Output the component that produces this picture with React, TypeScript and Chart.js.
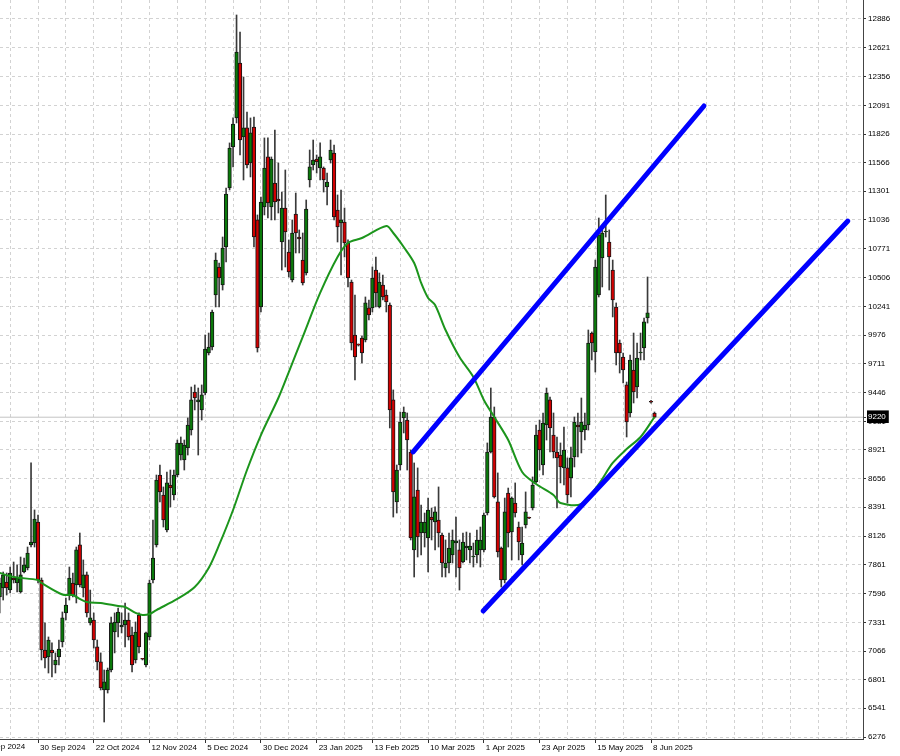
import React, { useEffect, useRef } from 'react';
import { Chart, registerables } from 'chart.js';

Chart.register(...registerables);

// ---- Daily OHLC (bar index 0 = 13 Sep 2024 ... 188 = 9 Jun 2025) ----
const openVals = [
  7565, 7648, 7703, 7629, 7740, 7694, 7611, 7795, 7832, 8044,
  8062, 8255, 7721, 7077, 7013, 7077, 6939, 7013, 7151, 7418,
  7583, 7694, 7675, 8044, 7648, 7768, 7326, 7353, 7105, 6967,
  6709, 6709, 6893, 7243, 7326, 7289, 7307, 7353, 7215, 6985,
  7399, 6996, 6939, 7197, 7721, 8044, 8688, 8504, 8182, 8596,
  8504, 8688, 8872, 8826, 8937, 9102, 9452, 9360, 9287, 9443,
  9811, 9866, 10345, 10603, 10437, 10787, 11330, 11708, 11975, 12481,
  11800, 11883, 11560, 11892, 11036, 10235, 11155, 11616, 11155, 11376,
  11229, 10833, 11146, 10741, 10483, 11091, 10879, 10667, 10548, 11404,
  11542, 11597, 11514, 11514, 11339, 11588, 11652, 11128, 11008, 11017,
  10824, 10465, 9977, 9887, 9949, 9931, 10226, 10226, 10575, 10235,
  10437, 10345, 10253, 9379, 8440, 8780, 9213, 9194, 8900, 7998,
  8550, 8154, 8154, 8108, 8301, 8255, 8274, 8136, 7832, 7878,
  7952, 8062, 7998, 7887, 8016, 7998, 7933, 7952, 7998, 7998,
  8338, 8900, 9222, 8440, 8016, 7721, 8522, 8163, 8430, 8209,
  7952, 8228, 8294, 8384, 8624, 9102, 8780, 9148, 9379, 9056,
  8900, 8872, 8753, 8753, 8661, 8854, 9148, 9084, 9102, 9148,
  9995, 9820, 10345, 10686, 10925, 10833, 10575, 10235, 9903, 9774,
  9517, 9259, 9655, 9498, 9811, 9857, 10133, 9362, 9259,
];
const highVals = [
  7740, 7795, 7786, 7841, 7887, 7860, 7933, 7924, 8025, 8799,
  8366, 8320, 7740, 7326, 7197, 7142, 7050, 7169, 7427, 7556,
  7841, 7786, 8025, 8154, 7906, 7795, 7629, 7418, 7169, 7050,
  6893, 6911, 7381, 7418, 7464, 7418, 7510, 7418, 7289, 7335,
  7418, 7000, 7243, 7721, 8274, 8688, 8780, 8578, 8716, 8734,
  8734, 9010, 9038, 9010, 9213, 9498, 9517, 9489, 9517, 9977,
  9995, 10207, 10732, 10640, 10879, 11330, 11745, 11975, 12923, 12766,
  12352, 12030, 11975, 11984, 11082, 11247, 11791, 11791, 11616, 11864,
  11560, 11293, 11496, 10852, 11036, 11284, 10944, 10916, 11220, 11680,
  11772, 11634, 11745, 11524, 11468, 11772, 11726, 11266, 11312, 11146,
  10852, 10483, 10345, 9895, 9968, 10327, 10299, 10603, 10695, 10548,
  10529, 10391, 10272, 9471, 8780, 9268, 9314, 9259, 8918, 8799,
  8753, 8412, 8338, 8476, 8384, 8394, 8578, 8154, 8090, 8154,
  8182, 8301, 8090, 8154, 8163, 8154, 8062, 8182, 8209, 8338,
  8983, 9489, 9314, 8707, 8025, 8476, 8568, 8486, 8615, 8255,
  8209, 8532, 8300, 8670, 9148, 9194, 9259, 9489, 9406, 9259,
  9038, 8983, 9130, 8845, 8946, 9222, 9259, 9397, 9259, 10023,
  10005, 10667, 11054, 10944, 11266, 10944, 10667, 10272, 9931, 9811,
  9544, 9793, 9995, 9903, 9995, 10133, 10511, 9375, 9268,
];
const lowVals = [
  7418, 7537, 7583, 7602, 7694, 7611, 7602, 7786, 7814, 8025,
  8025, 7694, 6985, 6911, 6865, 6829, 6865, 6939, 7105, 7353,
  7537, 7565, 7510, 7657, 7565, 7381, 7307, 7095, 6893, 6709,
  6414, 6681, 6875, 7050, 7197, 7234, 7105, 7169, 6875, 6957,
  7050, 6985, 6921, 7169, 7694, 8025, 8440, 8209, 8163, 8394,
  8458, 8670, 8826, 8734, 8872, 9056, 9287, 8872, 9194, 9425,
  9793, 9839, 10235, 10235, 10391, 10649, 11312, 11524, 11929, 11634,
  11404, 11514, 11432, 10787, 9820, 10189, 11082, 11054, 11036, 11036,
  11100, 10575, 10603, 10511, 10465, 10732, 10732, 10437, 10529, 11339,
  11496, 11468, 11404, 11293, 11174, 11560, 11036, 10833, 10529, 10695,
  10419, 9839, 9563, 9875, 9719, 9913, 10115, 10189, 10235, 10226,
  10299, 10189, 9121, 8301, 8338, 8734, 9075, 8734, 8090, 7749,
  7933, 7952, 8025, 7795, 8090, 7998, 8025, 7749, 7749, 7786,
  7878, 7749, 7629, 7878, 7906, 7878, 7841, 7878, 7841, 7979,
  8320, 8891, 8476, 7933, 7657, 7694, 8025, 7906, 8301, 7906,
  7860, 8200, 8285, 8366, 8615, 8734, 8688, 9010, 8900, 8845,
  8384, 8615, 8596, 8430, 8486, 8762, 8854, 8891, 9010, 9102,
  9747, 9636, 10327, 10419, 10879, 10391, 10143, 9701, 9627, 9535,
  9038, 9222, 9351, 9397, 9747, 9747, 10087, 9350, 9213,
];
const closeVals = [
  7694, 7768, 7648, 7786, 7721, 7740, 7768, 7860, 7970, 8071,
  8283, 7721, 7077, 7004, 7169, 7050, 6985, 7086, 7372, 7491,
  7740, 7583, 7998, 7675, 7768, 7418, 7372, 7169, 6967, 6727,
  6783, 6893, 7326, 7335, 7427, 7307, 7353, 7197, 6939, 7243,
  7105, 6992, 7234, 7694, 7924, 8642, 8532, 8274, 8615, 8568,
  8688, 8983, 8983, 8964, 9148, 9379, 9397, 9379, 9425, 9848,
  9866, 10189, 10667, 10502, 10778, 11275, 11698, 11919, 12582, 11772,
  11883, 11542, 11837, 10879, 9857, 11201, 11514, 11192, 11597, 11201,
  11211, 11146, 10925, 10557, 10916, 10916, 10861, 10456, 11137, 11524,
  11588, 11570, 11616, 11404, 11385, 11680, 11063, 10971, 11036, 10824,
  10502, 9903, 9774, 9883, 9811, 10272, 10161, 10502, 10364, 10465,
  10327, 10281, 9287, 8532, 8734, 9176, 9268, 9010, 8108, 8486,
  8117, 8255, 8255, 8366, 8274, 8348, 8154, 7878, 7878, 8016,
  8090, 8081, 7832, 8071, 8034, 8034, 7942, 8090, 8090, 8320,
  8900, 9222, 8486, 7979, 7721, 8348, 8154, 8476, 8338, 8071,
  8062, 8348, 8290, 8596, 9056, 8918, 9167, 9443, 9121, 8900,
  8845, 8762, 8918, 8504, 8845, 9176, 9130, 9176, 9148, 9903,
  9903, 10603, 10898, 10916, 10934, 10695, 10299, 9811, 9811, 9655,
  9176, 9747, 9452, 9765, 9820, 10097, 10180, 9358, 9220,
];

// ---- Moving average (bar index, value) ----
const maIndex = [
  0, 4, 11, 12, 18, 21, 22, 25, 29, 34, 36, 39, 41, 43, 45, 51, 56, 60, 63, 67,
  71, 75, 80, 83, 87, 92, 97, 100, 104, 111, 113, 116, 119, 121, 123, 125, 128, 132, 136, 139,
  142, 146, 150, 154, 159, 161, 167, 172, 176, 180, 184, 188,
];
const maValues = [
  7786, 7749, 7721, 7694, 7588, 7583, 7565, 7519, 7510, 7482, 7473, 7418, 7399, 7408, 7445, 7547, 7657, 7832, 8044, 8366,
  8734, 9056, 9397, 9636, 9959, 10364, 10695, 10824, 10870, 10980, 10916, 10787, 10640, 10456, 10318, 10253, 10023, 9774, 9590, 9379,
  9222, 9010, 8716, 8605, 8504, 8430, 8421, 8605, 8799, 8927, 9038, 9222,
];

// ---- Trend channel lines (bar index, value) ----
const upperLineX = [118.7, 202.2];
const upperLineY = [8900, 12085];
const lowerLineX = [138.8, 243.5];
const lowerLineY = [7436, 11026];

// ---- Axes ----
const lastPrice = 9220;
const yTickValues = [
  6276, 6541, 6801, 7066, 7331, 7596, 7861, 8126, 8391, 8656, 8921, 9181, 9220,
  9446, 9711, 9976, 10241, 10506, 10771, 11036, 11301, 11566, 11826, 12091, 12356, 12621, 12886,
];
const xLabelIndex = [-5, 11, 27, 43, 59, 75, 91, 107, 123, 139, 155, 171, 187];
const xLabelText = [
  '6 Sep 2024', '30 Sep 2024', '22 Oct 2024', '12 Nov 2024', '5 Dec 2024', '30 Dec 2024',
  '23 Jan 2025', '13 Feb 2025', '10 Mar 2025', '1 Apr 2025', '23 Apr 2025', '15 May 2025', '8 Jun 2025',
];

const X_MIN = 0.086;
const X_MAX = 247.86;
const Y_MIN = 6257.6;
const Y_MAX = 13060.9;
const FONT = 'Liberation Sans';
const GRID = '#d2d2d2';
const BULL = '#0a7a0a';
const BEAR = '#d20000';

export default function App() {
  const ref = useRef<HTMLCanvasElement | null>(null);

  useEffect(() => {
    const canvas = ref.current;
    if (!canvas) return;
    const idx = openVals.map((_, i) => i);
    const wicks = idx.map((i) => ({ x: i, y: [lowVals[i], highVals[i]] }));
    const bodies = idx.map((i) => ({ x: i, y: [openVals[i], closeVals[i]] }));
    const bodyColors = idx.map((i) => (closeVals[i] >= openVals[i] ? BULL : BEAR));
    const ma = maIndex.map((x, k) => ({ x, y: maValues[k] }));
    const upper = upperLineX.map((x, k) => ({ x, y: upperLineY[k] }));
    const lower = lowerLineX.map((x, k) => ({ x, y: lowerLineY[k] }));
    const priceLine = [{ x: X_MIN, y: lastPrice }, { x: X_MAX, y: lastPrice }];

    const gridIdx: number[] = [];
    for (let v = 3; v <= X_MAX; v += 8) gridIdx.push(v);

    const firstLabelPlugin = {
      id: 'clippedFirstLabel',
      afterDraw(chart: any) {
        const xs = chart.scales.x;
        const ctx = chart.ctx;
        ctx.save();
        ctx.font = `8px "${FONT}"`;
        ctx.fillStyle = '#000';
        ctx.textAlign = 'left';
        ctx.textBaseline = 'top';
        xLabelIndex.forEach((v, k) => {
          if (v < X_MIN) {
            ctx.fillText(xLabelText[k], xs.getPixelForValue(v) + 2, xs.top + 4);
          }
        });
        ctx.restore();
      },
    };

    const chart = new Chart(canvas, {
      type: 'bar',
      data: {
        datasets: [
          {
            type: 'line',
            data: priceLine,
            borderColor: '#c4c4c4',
            borderWidth: 1,
            pointRadius: 0,
            order: 6,
          },
          {
            type: 'bar',
            data: wicks as any,
            backgroundColor: '#3a3a3a',
            borderWidth: 0,
            barThickness: 1,
            grouped: false,
            order: 5,
          },
          {
            type: 'bar',
            data: bodies as any,
            backgroundColor: bodyColors,
            borderColor: '#151515',
            borderWidth: 1,
            borderSkipped: false,
            barThickness: 3.6,
            minBarLength: 1,
            grouped: false,
            order: 4,
          },
          {
            type: 'line',
            data: ma,
            borderColor: '#1c951c',
            borderWidth: 2,
            pointRadius: 0,
            tension: 0.3,
            order: 3,
          },
          {
            type: 'line',
            data: upper,
            borderColor: '#0000ff',
            borderWidth: 5,
            borderCapStyle: 'round',
            pointRadius: 0,
            order: 2,
          },
          {
            type: 'line',
            data: lower,
            borderColor: '#0000ff',
            borderWidth: 5,
            borderCapStyle: 'round',
            pointRadius: 0,
            order: 1,
          },
        ] as any,
      },
      options: {
        responsive: false,
        animation: false,
        devicePixelRatio: 1,
        events: [],
        layout: { padding: 0 },
        plugins: { legend: { display: false }, tooltip: { enabled: false } },
        scales: {
          x: {
            type: 'linear',
            position: 'bottom',
            min: X_MIN,
            max: X_MAX,
            offset: false,
            afterBuildTicks: (s: any) => {
              s.ticks = gridIdx.map((v) => ({ value: v }));
            },
            afterFit: (s: any) => {
              s.height = 17;
              s.paddingLeft = 0;
              s.paddingRight = 0;
            },
            ticks: {
              autoSkip: false,
              maxRotation: 0,
              minRotation: 0,
              align: 'start',
              labelOffset: 2,
              padding: 0,
              color: '#000',
              font: { family: FONT, size: 8 },
              callback: (v: any) => {
                const k = xLabelIndex.indexOf(Number(v));
                return k >= 0 ? xLabelText[k] : '';
              },
            },
            grid: {
              offset: false,
              color: GRID,
              lineWidth: 1,
              tickLength: 4,
              tickBorderDash: [],
              tickColor: (ctx: any) =>
                ctx.tick && xLabelIndex.indexOf(ctx.tick.value) >= 0 ? '#333' : 'rgba(0,0,0,0)',
            },
            border: { display: true, color: '#444', width: 1, dash: [3, 3] },
          },
          y: {
            type: 'linear',
            position: 'right',
            min: Y_MIN,
            max: Y_MAX,
            afterBuildTicks: (s: any) => {
              s.ticks = yTickValues.map((v) => ({ value: v }));
            },
            afterFit: (s: any) => {
              s.width = 37;
              s.paddingTop = 0;
              s.paddingBottom = 0;
            },
            ticks: {
              autoSkip: false,
              padding: 2,
              font: { family: FONT, size: 8 },
              color: (ctx: any) => (ctx.tick && ctx.tick.value === lastPrice ? '#fff' : '#000'),
              showLabelBackdrop: (ctx: any) => !!(ctx.tick && ctx.tick.value === lastPrice),
              backdropColor: '#000',
              backdropPadding: { top: 2, bottom: 1, left: 1, right: 3 },
              callback: (v: any) => String(v),
            },
            grid: {
              color: (ctx: any) => (ctx.tick && ctx.tick.value === lastPrice ? 'rgba(0,0,0,0)' : GRID),
              lineWidth: 1,
              tickLength: 3,
              tickBorderDash: [],
              tickColor: '#333',
            },
            border: { display: true, color: '#444', width: 1, dash: [3, 3] },
          },
        },
      } as any,
      plugins: [firstLabelPlugin],
    });

    return () => chart.destroy();
  }, []);

  return (
    <div style={{ position: 'fixed', left: 0, top: 0, width: 900, height: 756, background: '#fff' }}>
      <canvas ref={ref} width={900} height={756} style={{ display: 'block' }} />
    </div>
  );
}
